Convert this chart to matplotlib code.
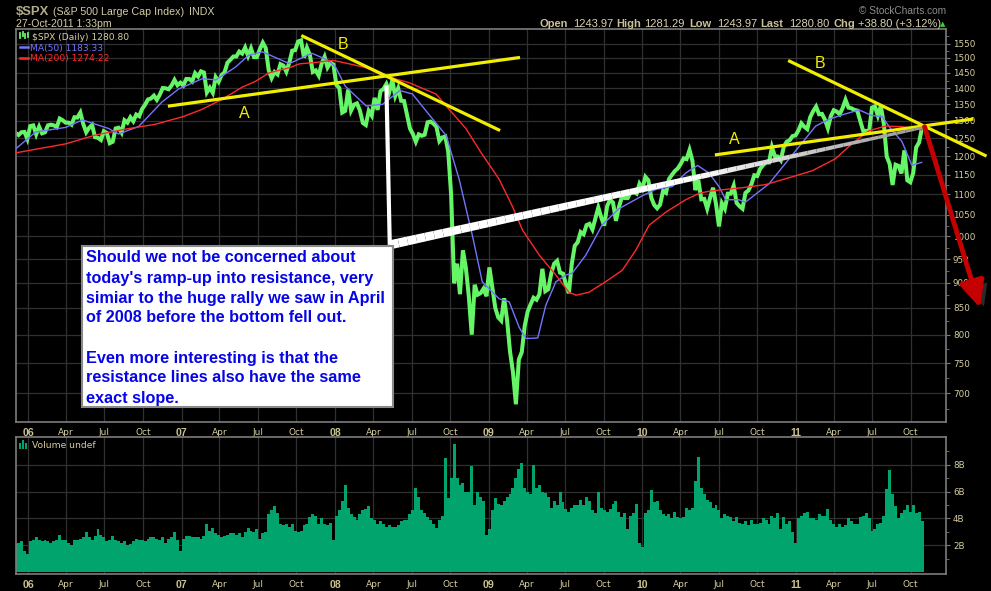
import numpy as np
import pandas as pd
import matplotlib
matplotlib.use('Agg')
import matplotlib.pyplot as plt
import matplotlib.dates as mdates
import matplotlib.patheffects as pe
from matplotlib.collections import LineCollection
from matplotlib.patches import Rectangle
from matplotlib.lines import Line2D
from matplotlib.ticker import FixedLocator, NullFormatter

# weekly (Friday) closes of $SPX
close_2005 = [1265, 1259, 1267, 1268, 1248]
close_2006 = [1285, 1287, 1261, 1283, 1264, 1267, 1287, 1289, 1287, 1282, 1307, 1302, 1295,
              1295, 1289, 1311, 1310, 1325, 1291, 1267, 1280, 1288, 1253, 1251, 1245, 1270,
              1265, 1236, 1240, 1278, 1280, 1266, 1302, 1295, 1311, 1299, 1319, 1314, 1336,
              1349, 1365, 1368, 1377, 1364, 1380, 1401, 1400, 1397, 1409, 1427, 1410, 1418]
close_2007 = [1409, 1430, 1430, 1422, 1449, 1438, 1455, 1451, 1387, 1402, 1386, 1436, 1421,
              1443, 1452, 1484, 1494, 1505, 1505, 1522, 1515, 1536, 1507, 1533, 1503, 1503,
              1530, 1553, 1534, 1459, 1433, 1453, 1445, 1479, 1474, 1454, 1484, 1525, 1527,
              1557, 1561, 1501, 1535, 1510, 1453, 1458, 1441, 1481, 1504, 1468, 1484, 1478]
close_2008 = [1411, 1401, 1325, 1330, 1396, 1331, 1349, 1353, 1331, 1294, 1288, 1330, 1316,
              1370, 1333, 1391, 1398, 1414, 1389, 1426, 1376, 1400, 1361, 1360, 1318, 1278,
              1262, 1240, 1261, 1257, 1260, 1296, 1298, 1292, 1283, 1242, 1252, 1255, 1213,
              1099, 899, 940, 877, 969, 931, 873, 800, 896, 876, 879, 888, 873]
close_2009 = [932, 890, 850, 832, 826, 869, 827, 770, 735, 683, 756, 769, 816,
              843, 857, 870, 866, 877, 929, 883, 887, 919, 940, 946, 921, 919,
              897, 879, 940, 979, 987, 1010, 1005, 1026, 1029, 1016, 1042, 1068, 1044,
              1025, 1071, 1087, 1080, 1036, 1069, 1093, 1091, 1091, 1106, 1106, 1102, 1127]
close_2010 = [1115, 1145, 1136, 1092, 1074, 1066, 1075, 1109, 1104, 1139, 1150, 1160, 1167,
              1179, 1194, 1192, 1217, 1187, 1111, 1136, 1088, 1089, 1065, 1092, 1117, 1076,
              1023, 1078, 1065, 1102, 1102, 1122, 1079, 1071, 1065, 1104, 1110, 1125, 1149,
              1147, 1166, 1176, 1183, 1183, 1225, 1200, 1199, 1189, 1225, 1240, 1244, 1256, 1258]
close_2011 = [1272, 1293, 1283, 1276, 1311, 1329, 1343, 1320, 1321, 1304, 1279, 1314,
              1332, 1328, 1320, 1338, 1364, 1340, 1338, 1333, 1331, 1300, 1271, 1271, 1268,
              1340, 1344, 1316, 1345, 1292, 1199, 1179, 1124, 1177, 1174, 1154, 1216, 1136,
              1131, 1155, 1224, 1238, 1281]

# volume, billions of shares
vol_2005 = [2.1, 2.2, 2.3, 1.6, 1.4]
vol_2006 = [2.3, 2.4, 2.6, 2.4, 2.3, 2.4, 2.3, 2.2, 2.3, 2.4, 2.8, 2.4, 2.4,
            2.2, 2.0, 2.4, 2.4, 2.5, 2.6, 3.0, 2.6, 2.4, 2.7, 3.2, 2.8, 2.6,
            2.3, 2.4, 2.7, 2.4, 2.3, 2.2, 2.3, 2.0, 2.1, 2.3, 2.5, 2.4, 2.4,
            2.3, 2.5, 2.6, 2.6, 2.5, 2.4, 2.6, 2.2, 2.5, 2.6, 3.0, 2.4, 1.6]
vol_2007 = [2.5, 2.7, 2.7, 2.6, 2.6, 2.6, 2.5, 2.7, 3.6, 3.1, 3.3, 2.9, 2.8,
            2.6, 2.7, 2.8, 2.9, 2.9, 2.8, 2.9, 2.6, 3.0, 3.3, 3.1, 3.0, 3.2,
            2.5, 2.9, 3.0, 4.3, 4.6, 4.9, 4.4, 3.6, 3.5, 3.6, 3.4, 3.6, 3.1,
            3.0, 3.1, 3.5, 3.6, 4.1, 4.3, 4.2, 3.6, 4.0, 3.6, 3.5, 3.7, 2.4]
vol_2008 = [4.2, 4.6, 5.3, 6.5, 4.8, 4.3, 4.1, 3.9, 4.3, 4.6, 4.7, 4.9, 4.0,
            3.9, 3.6, 3.8, 3.6, 3.4, 3.5, 3.4, 3.4, 3.5, 3.8, 3.9, 3.9, 4.3,
            4.6, 6.3, 5.6, 4.6, 4.4, 4.1, 3.9, 3.6, 3.3, 3.9, 4.2, 8.5, 5.5,
            7.0, 9.5, 7.0, 6.5, 6.6, 6.0, 6.0, 7.9, 5.0, 6.0, 5.6, 5.3, 2.8]
vol_2009 = [3.2, 4.6, 5.5, 5.1, 5.0, 5.3, 5.6, 5.8, 6.3, 7.0, 7.7, 8.1, 6.3,
            6.0, 5.8, 8.0, 6.3, 6.5, 6.0, 5.9, 5.6, 4.8, 5.3, 5.0, 6.0, 5.2,
            4.7, 4.5, 4.8, 5.0, 5.0, 5.4, 5.0, 5.6, 5.3, 4.6, 4.4, 6.0, 4.8,
            4.6, 4.5, 4.7, 5.1, 5.3, 4.5, 4.1, 4.4, 3.2, 4.2, 4.4, 5.1, 2.2]
vol_2010 = [1.9, 4.4, 4.6, 6.1, 5.2, 5.3, 4.6, 4.3, 4.2, 4.3, 4.0, 4.5, 4.1,
            4.0, 4.1, 4.8, 4.6, 4.8, 6.8, 8.6, 6.3, 5.8, 5.4, 5.2, 4.8, 5.0,
            4.6, 4.0, 4.3, 4.2, 4.1, 3.8, 4.1, 3.7, 3.6, 3.8, 3.5, 3.9, 3.6,
            3.6, 3.7, 4.0, 3.9, 3.6, 4.2, 4.0, 4.4, 3.2, 4.1, 3.6, 3.8, 3.0, 2.2]
vol_2011 = [4.0, 4.2, 4.4, 4.5, 4.0, 4.0, 3.9, 4.3, 4.2, 4.2, 4.7, 3.9,
            3.6, 3.4, 3.6, 3.4, 3.5, 4.0, 3.8, 3.6, 3.6, 4.1, 4.2, 4.4, 4.0,
            3.1, 3.2, 3.6, 3.7, 4.2, 6.2, 7.6, 5.8, 4.9, 4.0, 4.4, 4.6, 5.0,
            4.5, 5.0, 4.4, 4.5, 3.8]

# moving averages
ma50_dates = ['2005-12-02', '2006-01-19', '2006-03-31', '2006-05-10', '2006-07-11', '2006-08-04',
              '2006-09-21', '2006-11-15', '2006-12-25', '2007-02-19', '2007-03-23', '2007-05-09',
              '2007-06-09', '2007-07-12', '2007-09-14', '2007-11-07', '2007-12-17', '2008-01-03',
              '2008-01-25', '2008-03-15', '2008-04-23', '2008-06-03', '2008-07-03', '2008-08-12',
              '2008-09-21', '2008-10-22', '2008-11-23', '2008-12-16', '2009-01-25', '2009-02-18',
              '2009-03-14', '2009-03-30', '2009-04-27', '2009-05-16', '2009-06-09', '2009-07-03',
              '2009-07-18', '2009-08-19', '2009-09-27', '2009-11-06', '2010-01-01', '2010-02-02',
              '2010-03-13', '2010-04-14', '2010-05-12', '2010-06-08', '2010-07-02', '2010-07-18',
              '2010-08-18', '2010-09-03', '2010-10-29', '2010-12-16', '2011-02-17', '2011-03-21',
              '2011-04-21', '2011-05-31', '2011-07-01', '2011-07-25', '2011-08-14', '2011-09-10',
              '2011-10-04', '2011-10-27']
ma50_vals = [1220, 1268, 1281, 1303, 1278, 1262,
             1284, 1357, 1398, 1431, 1427, 1469,
             1509, 1521, 1481, 1516, 1491, 1467,
             1407, 1345, 1350, 1393, 1382, 1318,
             1258, 1139, 1000, 902, 868, 862,
             813, 793, 794, 855, 902, 916,
             920, 958, 1026, 1065, 1097, 1113,
             1120, 1155, 1175, 1155, 1120, 1087,
             1087, 1081, 1127, 1193, 1285, 1305,
             1318, 1333, 1316, 1313, 1278, 1241,
             1175, 1183.33]
ma200_dates = ['2005-12-02', '2006-03-31', '2006-06-10', '2006-08-20', '2006-10-30', '2007-01-05',
               '2007-02-19', '2007-04-08', '2007-05-24', '2007-06-25', '2007-07-28', '2007-09-14',
               '2007-10-08', '2007-11-23', '2007-12-26', '2008-02-04', '2008-03-15', '2008-04-23',
               '2008-06-25', '2008-08-28', '2008-09-28', '2008-11-07', '2008-12-13', '2009-01-25',
               '2009-02-26', '2009-03-22', '2009-05-01', '2009-06-09', '2009-07-10', '2009-07-27',
               '2009-08-27', '2009-10-05', '2009-11-14', '2009-12-16', '2010-01-17', '2010-02-26',
               '2010-04-14', '2010-05-16', '2010-06-08', '2010-07-02', '2010-08-26', '2010-10-21',
               '2010-12-23', '2011-02-09', '2011-04-05', '2011-05-15', '2011-06-23', '2011-08-02',
               '2011-09-10', '2011-10-27']
ma200_vals = [1209, 1234, 1259, 1276, 1290, 1313,
              1335, 1366, 1403, 1422, 1450, 1467,
              1480, 1486, 1492, 1480, 1467, 1442,
              1418, 1382, 1335, 1278, 1210, 1139,
              1070, 1014, 958, 916, 881, 875,
              881, 902, 926, 969, 1026, 1057,
              1087, 1103, 1108, 1111, 1117, 1125,
              1145, 1161, 1193, 1235, 1271, 1285,
              1283, 1274.22]

# hand-drawn trendlines (date, price) end points
trend_a1 = (['2006-12-03', '2009-03-12'], [1345, 1501])
trend_b1 = (['2007-10-16', '2009-01-24'], [1576, 1274])
trend_a2 = (['2010-06-26', '2012-02-23'], [1204, 1305])
trend_b2 = (['2010-12-17', '2012-03-26'], [1489, 1202])
link_top = ('2008-05-02', 1409)
link_bottom = ('2008-05-10', 981)
link_end = ('2011-10-31', 1281)
drop_from = ('2011-11-03', 1283)
drop_to = ('2012-03-14', 850)

price_ticks = list(range(700, 1551, 50))
vol_ticks = [2, 4, 6, 8]

weeks = pd.date_range('2005-12-02', '2011-10-28', freq='W-FRI')
close = np.array(close_2005 + close_2006 + close_2007 + close_2008 + close_2009 + close_2010 + close_2011)
volume = np.array(vol_2005 + vol_2006 + vol_2007 + vol_2008 + vol_2009 + vol_2010 + vol_2011)

W, H = 991.0, 591.0
def fx(p):
    return p / W
def fy(p):
    return 1.0 - p / H
def dn(s):
    return mdates.date2num(pd.Timestamp(s))

GREEN = '#66f566'
BLUE = '#7474ff'
RED = '#ff2a2a'
YELLOW = '#f2ee00'
VOLC = '#02a46e'
GRID = '#303030'
FRAME = '#7c7c7c'
TICK = '#d6cea2'
SANS = 'DejaVu Sans'
ARIAL = 'Liberation Sans'

fig = plt.figure(figsize=(9.91, 5.91), dpi=100, facecolor='black')
ax = fig.add_axes([fx(16), fy(422), 930 / W, 393 / H], facecolor='black')
axv = fig.add_axes([fx(16), fy(574), 930 / W, 137 / H], facecolor='black')

qticks = pd.date_range('2006-01-01', '2011-10-01', freq='QS')
qlabels = [d.strftime('%y') if d.month == 1 else d.strftime('%b') for d in qticks]
x0, x1 = dn('2005-12-03'), dn('2011-12-24')

for a in (ax, axv):
    a.set_xlim(x0, x1)
    a.set_xticks(qticks)
    a.set_xticklabels(qlabels)
    a.tick_params(axis='x', length=0, pad=4, labelcolor=TICK, labelsize=6.5)
    for lbl, d in zip(a.get_xticklabels(), qticks):
        if d.month == 1:
            lbl.set_fontfamily(ARIAL)
            lbl.set_fontweight('bold')
            lbl.set_fontsize(7.6)
            lbl.set_color('#c8c090')
    for s in a.spines.values():
        s.set_color(FRAME)
        s.set_linewidth(1.2)
    a.grid(True, which='major', color=GRID, lw=0.9)
    a.set_axisbelow(True)
    a.yaxis.tick_right()
    a.tick_params(axis='y', which='both', direction='out', color=FRAME,
                  labelcolor=TICK, labelsize=6.3, pad=2)
    a.tick_params(axis='y', which='major', length=3)
    a.tick_params(axis='y', which='minor', length=2)

# price panel
ax.set_yscale('log')
ax.set_ylim(656, 1602)
ax.set_yticks(price_ticks)
ax.set_yticklabels([str(v) for v in price_ticks])
ax.yaxis.set_minor_locator(FixedLocator([v + 25 for v in price_ticks[:-1]] + [675, 1575]))
ax.yaxis.set_minor_formatter(NullFormatter())

ax.plot(weeks, close, color=GREEN, lw=2.9, solid_joinstyle='miter', zorder=2)
ax.plot(pd.to_datetime(ma50_dates), ma50_vals, color=BLUE, lw=1.0, zorder=3)
ax.plot(pd.to_datetime(ma200_dates), ma200_vals, color=RED, lw=1.0, zorder=3)

for tl in (trend_a1, trend_b1, trend_a2, trend_b2):
    ax.plot(pd.to_datetime(tl[0]), tl[1], color=YELLOW, lw=2.3, clip_on=False, zorder=5)

# white connector from the 2008 top to today's close
vx = [dn(link_top[0]), dn(link_bottom[0])]
ax.plot(vx, [link_top[1], link_bottom[1]], color='white', lw=3, solid_capstyle='butt', zorder=6)
n = 60
t = np.linspace(0, 1, n + 1)
lx = dn(link_bottom[0]) + (dn(link_end[0]) - dn(link_bottom[0])) * t
ly = link_bottom[1] * (link_end[1] / link_bottom[1]) ** t
segs = [[(lx[i], ly[i]), (lx[i + 1], ly[i + 1])] for i in range(n)]
shade = np.clip((t[:-1] - 0.55) / 0.45, 0, 1)
cols = [(1 - 0.42 * s, 1 - 0.42 * s, 1 - 0.42 * s) for s in shade]
widths = 6.5 - 4.5 * t[:-1]
ax.add_collection(LineCollection(segs, colors=cols, linewidths=widths,
                                 capstyle='butt', zorder=6, clip_on=False))

ax.annotate('', xy=(dn(drop_to[0]), drop_to[1]), xytext=(dn(drop_from[0]), drop_from[1]),
            arrowprops=dict(arrowstyle='-|>,head_length=1.6,head_width=0.75', lw=3.5,
                            color='#c40000', shrinkA=0, shrinkB=0,
                            path_effects=[pe.SimplePatchShadow(offset=(4, -3), shadow_rgbFace='#555555', alpha=0.5),
                                          pe.Normal()]),
            annotation_clip=False, zorder=7)

# volume panel
axv.set_ylim(-0.12, 10.05)
axv.set_yticks(vol_ticks)
axv.set_yticklabels(['%dB' % v for v in vol_ticks])
axv.yaxis.set_minor_locator(FixedLocator([1, 3, 5, 7, 9]))
axv.bar(weeks, volume, width=7, color=VOLC, linewidth=0, zorder=2)

# in-panel legends
fig.add_artist(Line2D([fx(20), fx(28)], [fy(46.5), fy(46.5)], color=BLUE, lw=1.8))
fig.add_artist(Line2D([fx(20), fx(28)], [fy(57.5), fy(57.5)], color=RED, lw=1.8))
for xi, top, bot in [(20, 33, 38), (22.5, 32, 36), (25, 34, 38), (27.5, 32.5, 37)]:
    fig.add_artist(Line2D([fx(xi), fx(xi)], [fy(top), fy(bot)], color=GREEN, lw=1.3))
for xi, top in [(20, 443), (23, 440), (26, 442.5)]:
    fig.add_artist(Rectangle((fx(xi - 1), fy(448.5)), fx(2.2), (448.5 - top) / H, color=VOLC, lw=0))
fig.text(fx(31.5), fy(39.5), '$SPX (Daily) 1280.80', color=TICK, fontsize=6.6, family=SANS)
fig.text(fx(29.5), fy(50.5), 'MA(50) 1183.33', color=BLUE, fontsize=6.6, family=SANS)
fig.text(fx(29.5), fy(61.5), 'MA(200) 1274.22', color=RED, fontsize=6.6, family=SANS)
fig.text(fx(31.5), fy(448.3), 'Volume undef', color=TICK, fontsize=6.6, family=SANS)

# header
fig.text(fx(16), fy(15), '$SPX', color='#b2ad8c', fontsize=9.4, fontweight='bold', family=ARIAL)
fig.text(fx(53.3), fy(14.6), '(S&P 500 Large Cap Index)', color='#d2cca8', fontsize=7.7, family=ARIAL)
fig.text(fx(189), fy(14.6), 'INDX', color='#d2cca8', fontsize=7.7, family=ARIAL)
fig.text(fx(16), fy(26.7), '27-Oct-2011 1:33pm', color='#d2cca8', fontsize=7.6, family=ARIAL)
fig.text(fx(946), fy(14), '\u00a9 StockCharts.com', color='#8c8c8c', fontsize=7.3, family=ARIAL, ha='right')
quote = [(540, 'Open', True), (572.7, '1243.97', False), (616.7, 'High', True),
         (644.3, '1281.29', False), (689, 'Low', True), (716.7, '1243.97', False),
         (760.7, 'Last', True), (788.7, '1280.80', False), (833.3, 'Chg', True),
         (857.7, '+38.80 (+3.12%)', False)]
for xp, s, bold in quote:
    fig.text(fx(xp), fy(26.7), s, color='#c9c196' if bold else '#d8d2b0', fontsize=8,
             fontweight='bold' if bold else 'normal', family=ARIAL)
fig.text(fx(943), fy(26.5), '\u25b2', color='#3ad23a', fontsize=5, family=SANS, ha='center')

# A / B markers
for xp, yp, s in [(244, 113.8, 'A'), (343, 44.7, 'B'), (733.8, 139, 'A'), (820.5, 64, 'B')]:
    fig.text(fx(xp), fy(yp), s, color=YELLOW, fontsize=11.5, family=ARIAL,
             ha='center', va='center', zorder=8)

# comment box
fig.add_artist(Rectangle((fx(82.3), fy(406.7)), (392.7 - 82.3) / W, (406.7 - 246.3) / H,
                         facecolor='white', edgecolor='#8a8a8a', lw=1.5, zorder=8))
box_lines = ["Should we not be concerned about",
             "today's ramp-up into resistance, very",
             "simiar to the huge rally we saw in April",
             "of 2008 before the bottom fell out.",
             "",
             "Even more interesting is that the",
             "resistance lines also have the same",
             "exact slope."]
for i, line in enumerate(box_lines):
    fig.text(fx(86.5), fy(262.5 + 20 * i), line, color='#0505e6', fontsize=11.7,
             fontweight='bold', family=ARIAL, va='baseline', zorder=9)

fig.savefig('out.png', dpi=100, facecolor='black')
